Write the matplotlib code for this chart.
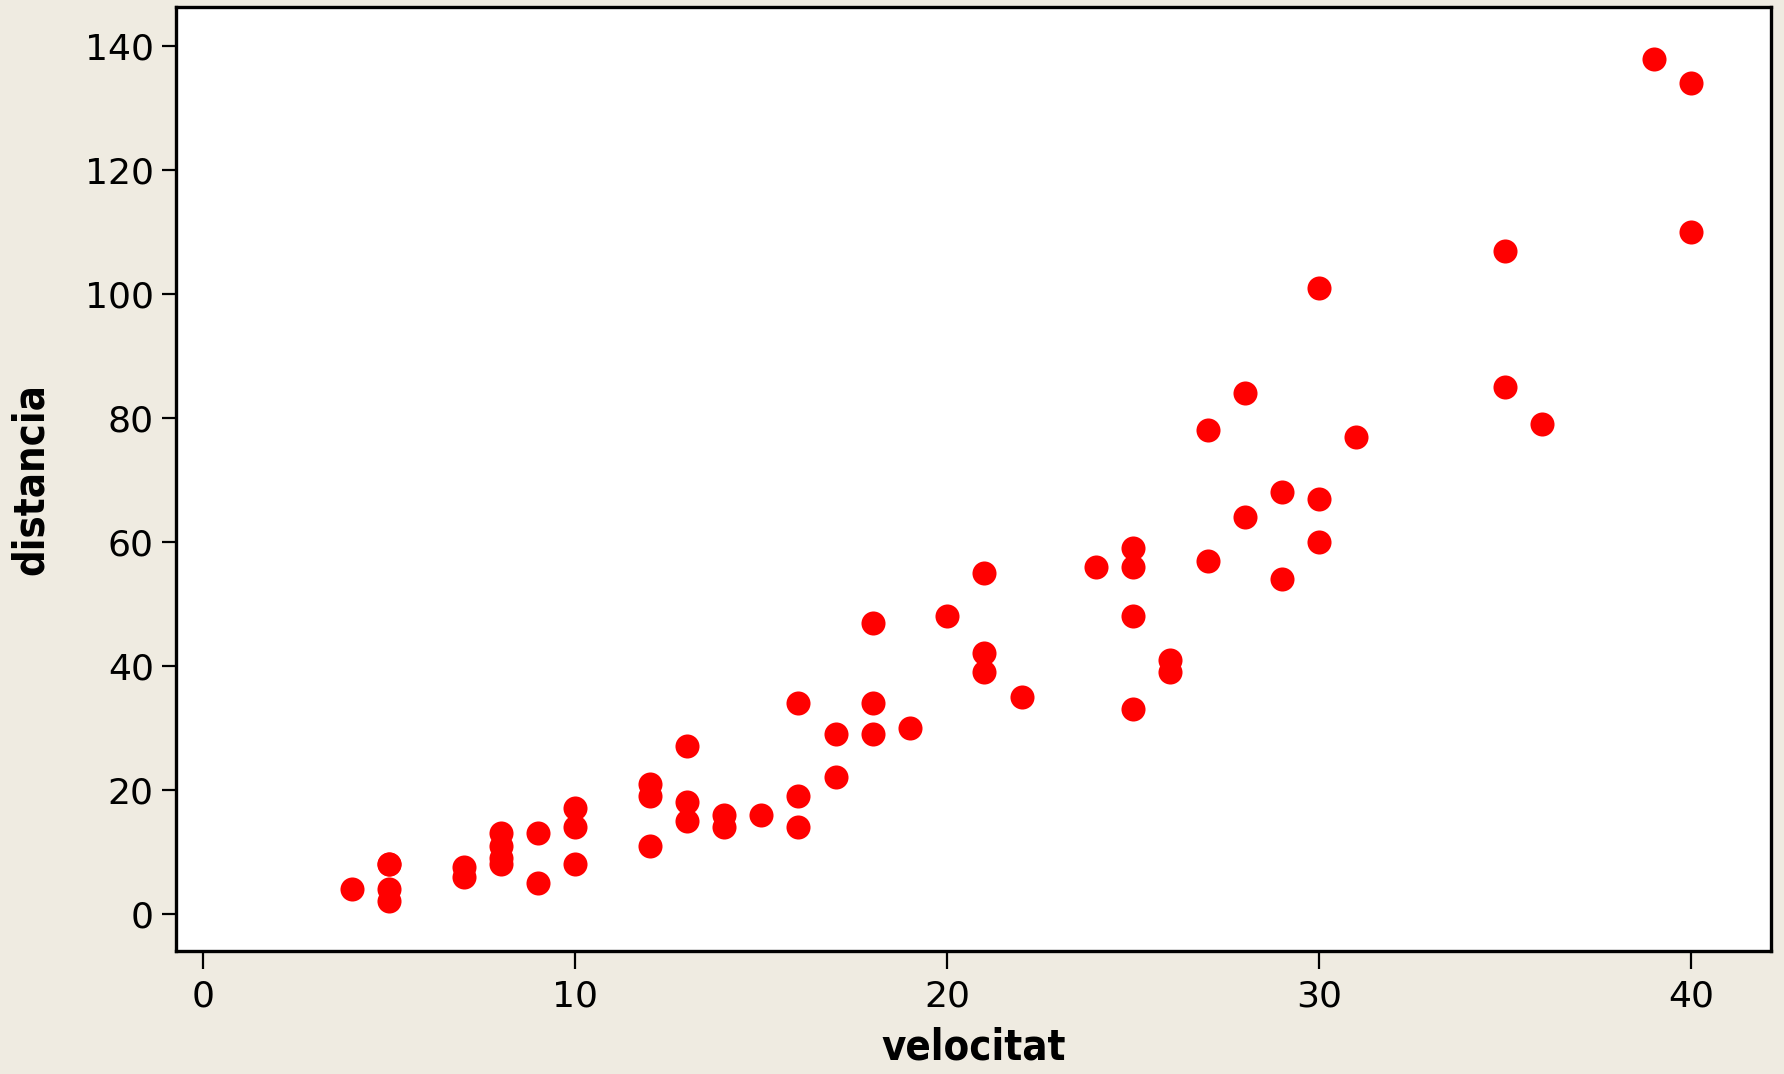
import matplotlib
matplotlib.use("Agg")
from matplotlib import pyplot as plt

velocitat = [4, 5, 5, 5, 5, 7, 7, 8, 8, 8, 8, 9, 9, 10, 10, 10,
             12, 12, 12, 13, 13, 13, 14, 14, 15, 16, 16, 16, 17, 17,
             18, 18, 18, 19, 20, 21, 21, 21, 22, 24, 25, 25, 25, 25,
             26, 26, 27, 27, 28, 28, 29, 29, 30, 30, 30, 31, 35, 35,
             36, 39, 40, 40]
distancia = [4, 2, 4, 8, 8, 7.5, 6, 8, 9, 11, 13, 13, 5, 8, 14, 17,
             11, 21, 19, 18, 27, 15, 14, 16, 16, 19, 14, 34, 29, 22,
             47, 29, 34, 30, 48, 39, 42, 55, 35, 56, 33, 59, 48, 56,
             39, 41, 78, 57, 64, 84, 68, 54, 60, 101, 67, 77, 85, 107,
             79, 138, 110, 134]

xticks = [0, 10, 20, 30, 40]
yticks = [0, 20, 40, 60, 80, 100, 120, 140]

bg = "#efebe1"
label_font = ["Liberation Sans Narrow", "DejaVu Sans"]

fig = plt.figure(figsize=(17.84, 10.74), dpi=100, facecolor=bg)
ax = fig.add_axes([0.0987, 0.1148, 0.8939, 0.8790])
ax.set_facecolor("white")

ax.scatter(velocitat, distancia, s=300, color="#ff0000", linewidths=0, zorder=3)

ax.set_xlim(-0.73, 42.14)
ax.set_ylim(-5.97, 146.4)
ax.set_xticks(xticks)
ax.set_yticks(yticks)

for side in ax.spines.values():
    side.set_linewidth(2.4)
    side.set_color("black")

ax.tick_params(axis="x", length=13, width=1.6, pad=8, labelsize=26)
ax.tick_params(axis="y", length=10, width=1.6, pad=6, labelsize=26)

ax.set_xlabel("velocitat", family=label_font, fontweight="bold", fontstretch="condensed",
              fontsize=30, labelpad=9)
ax.set_ylabel("distancia", family=label_font, fontweight="bold", fontstretch="condensed",
              fontsize=30, labelpad=24)

fig.savefig("out.png", dpi=100, facecolor=bg)
